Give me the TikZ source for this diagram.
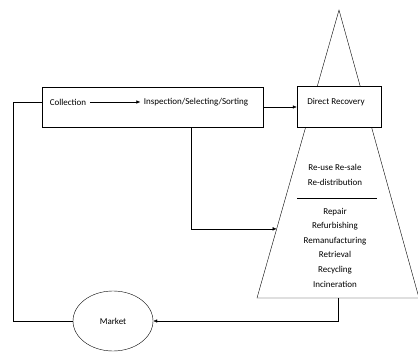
\documentclass[tikz,border=0pt]{standalone}
\usepackage{fontspec}
\setmainfont{Carlito}
\usetikzlibrary{calc,shapes.geometric,arrows.meta}

\begin{document}
\begin{tikzpicture}[x=1pt, y=-1pt, font=\fontsize{9}{11}\selectfont,
    >={Latex[length=4pt,width=3.5pt]},
    listtext/.style={align=center, font=\fontsize{9}{14.6}\selectfont}]
    \useasboundingbox (0,0) rectangle (418,353);

    % Pyramid of recovery options
    \coordinate (apex) at (339,10);
    \coordinate (bleft) at (257,298);
    \coordinate (bright) at (419,298);
    \draw (apex) -- (bleft) -- (bright) -- cycle;

    % Collection and sorting box
    \node[draw, minimum width=221, minimum height=40] (sortbox) at (152.5,107) {};
    \node (collect) at (68,102) {Collection};
    \node (inspect) at (196,102) {Inspection/Selecting/Sorting};
    \draw[->] (collect) -- (inspect);

    % Direct recovery box at the top of the pyramid
    \node[draw, fill=white, minimum width=84, minimum height=41] (direct) at (339,107) {};
    \node (directtxt) at (336,102) {Direct Recovery};
    \draw[->] (sortbox.east) -- (direct.west);

    % Recovery options inside the pyramid
    \node[listtext] (reuse) at (335,175) {Re-use Re-sale\\Re-distribution};
    \coordinate (sepl) at (297,198);
    \coordinate (sepr) at (377,198);
    \draw (sepl) -- (sepr);
    \node[listtext] (repair) at (335,247.5) {Repair\\Refurbishing\\Remanufacturing\\Retrieval\\Recycling\\Incineration};

    % Market
    \node[draw, ellipse, minimum width=80, minimum height=60] (market) at (113,321) {Market};

    % Connections
    \coordinate (tin) at ($(apex)!0.76!(bleft)$);
    \coordinate (bmid) at ($(bleft)!0.5!(bright)$);
    \draw[->] ($(sortbox.south)+(38.5,0)$) |- (tin);
    \draw[->] (bmid) |- (market.east);
    \draw (sortbox.west |- collect) -- ++(-29,0) |- (market.west);
\end{tikzpicture}
\end{document}
